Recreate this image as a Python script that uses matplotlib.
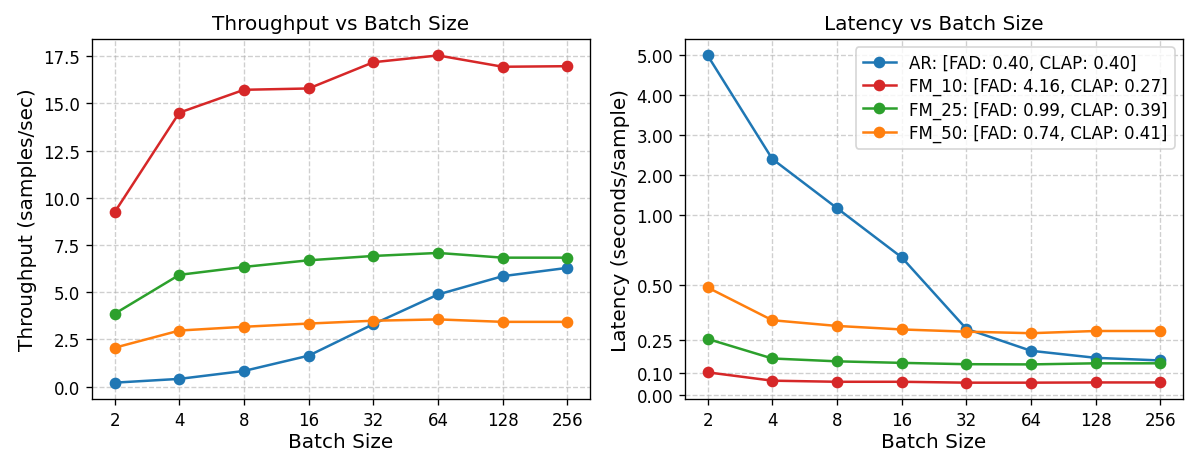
import matplotlib
matplotlib.use('Agg')
import matplotlib.pyplot as plt
import numpy as np

batch_sizes = ['2', '4', '8', '16', '32', '64', '128', '256']

labels = [
    'AR: [FAD: 0.40, CLAP: 0.40]',
    'FM_10: [FAD: 4.16, CLAP: 0.27]',
    'FM_25: [FAD: 0.99, CLAP: 0.39]',
    'FM_50: [FAD: 0.74, CLAP: 0.41]',
]
colors = ['#1f77b4', '#d62728', '#2ca02c', '#ff7f0e']

# throughput (samples/sec)
thr_ar = [0.21, 0.41, 0.83, 1.64, 3.31, 4.88, 5.85, 6.29]
thr_fm10 = [9.24, 14.51, 15.72, 15.79, 17.18, 17.54, 16.94, 16.97]
thr_fm25 = [3.86, 5.92, 6.34, 6.69, 6.92, 7.08, 6.83, 6.83]
thr_fm50 = [2.06, 2.97, 3.17, 3.34, 3.49, 3.56, 3.43, 3.43]

# latency (seconds/sample)
lat_ar = [5.00, 2.41, 1.18, 0.70, 0.302, 0.202, 0.170, 0.158]
lat_fm10 = [0.104, 0.066, 0.061, 0.061, 0.057, 0.057, 0.058, 0.058]
lat_fm25 = [0.256, 0.167, 0.154, 0.147, 0.141, 0.140, 0.145, 0.145]
lat_fm50 = [0.490, 0.341, 0.315, 0.299, 0.289, 0.282, 0.292, 0.292]

lat_ticks = [0.0, 0.1, 0.25, 0.5, 1.0, 2.0, 3.0, 4.0, 5.0]

# piecewise linear y scale for latency (stretched below 1)
brk_v = [-10.0, 0.0, 0.5, 1.0, 100.0]
brk_p = [-55.0, 0.0, 2.75, 4.5, 103.5]

def fwd(y):
	return np.interp(y, brk_v, brk_p)

def inv(p):
	return np.interp(p, brk_p, brk_v)


fig = plt.figure(figsize=(10, 3.883), dpi=120)
ax1 = fig.add_axes([0.0767, 0.1416, 0.4150, 0.7725])
ax2 = fig.add_axes([0.5708, 0.1416, 0.4150, 0.7725])

x = np.arange(len(batch_sizes))

for vals, lab, c in zip([thr_ar, thr_fm10, thr_fm25, thr_fm50], labels, colors):
	ax1.plot(x, vals, marker='o', color=c, label=lab, linewidth=1.5, markersize=6)

ax2.set_yscale('function', functions=(fwd, inv))
for vals, lab, c in zip([lat_ar, lat_fm10, lat_fm25, lat_fm50], labels, colors):
	ax2.plot(x, vals, marker='o', color=c, label=lab, linewidth=1.5, markersize=6)

ax1.set_title('Throughput vs Batch Size', fontsize=12)
ax1.set_xlabel('Batch Size', fontsize=12, labelpad=2)
ax1.set_ylabel('Throughput (samples/sec)', fontsize=12)

ax2.set_title('Latency vs Batch Size', fontsize=12)
ax2.set_xlabel('Batch Size', fontsize=12, labelpad=2)
ax2.set_ylabel('Latency (seconds/sample)', fontsize=12)
ax2.set_yticks(lat_ticks)
ax2.set_yticklabels(['%.2f' % t for t in lat_ticks])
ax2.legend(loc='upper right', fontsize=10, labelspacing=0.3)

for ax in (ax1, ax2):
	ax.set_xticks(x)
	ax.set_xticklabels(batch_sizes)
	ax.tick_params(labelsize=10)
	ax.grid(True, linestyle='--', alpha=0.6)

fig.savefig('out.png', dpi=120)
